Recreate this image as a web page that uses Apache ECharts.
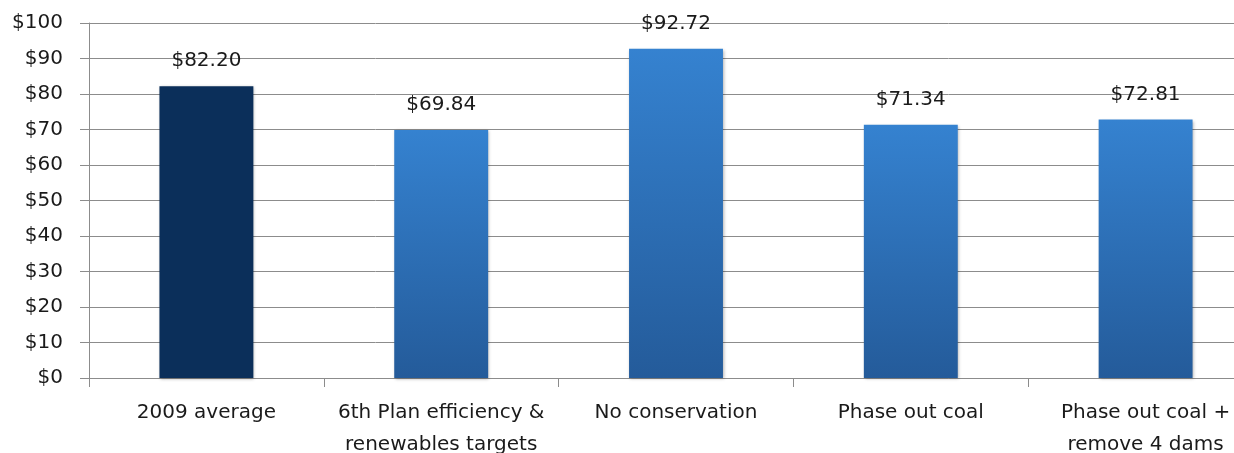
<!DOCTYPE html>
<html><head><meta charset="utf-8">
<script src="https://cdn.jsdelivr.net/npm/echarts@6/dist/echarts.min.js"></script>
<style>html,body{margin:0;padding:0;background:#fff}#c{width:1234px;height:453px}</style>
</head><body><div id="c"></div>
<script>
const categories = ["2009 average", "6th Plan efficiency &\nrenewables targets", "No conservation", "Phase out coal", "Phase out coal +\nremove 4 dams"];
const values = [82.20, 69.84, 92.72, 71.34, 72.81];
const yTicks = [0, 10, 20, 30, 40, 50, 60, 70, 80, 90, 100];

const font = '"DejaVu Sans", sans-serif';
const blueGrad = {type:'linear', x:0, y:0, x2:0, y2:1, colorStops:[{offset:0,color:'#3582d0'},{offset:1,color:'#245b9a'}]};
const chart = echarts.init(document.getElementById('c'));
chart.setOption({
  animation:false,
  grid:{left:89, right:-29, top:23, bottom:75, outerBoundsMode:'none', containLabel:false},
  xAxis:{type:'category', data:categories,
    axisLine:{lineStyle:{color:'#8c8c8c', width:1}},
    axisTick:{show:true, length:9, alignWithLabel:false, lineStyle:{color:'#8c8c8c'}},
    axisLabel:{color:'#1a1a1a', fontFamily:font, fontSize:20, margin:19, lineHeight:32, interval:0}
  },
  yAxis:{type:'value', min:0, max:100, interval:10,
    axisLine:{show:true, lineStyle:{color:'#8c8c8c'}},
    axisTick:{show:true, length:9, lineStyle:{color:'#8c8c8c'}},
    splitLine:{lineStyle:{color:'#8c8c8c', width:1}},
    axisLabel:{color:'#1a1a1a', fontFamily:font, fontSize:20, margin:26,
      formatter:function(v){return yTicks.indexOf(v)>=0 ? '$'+v : '';}}
  },
  series:[{type:'bar', barWidth:'40%',
    data: values.map((v,i)=>({value:v, itemStyle:{color: i===0 ? '#0b2f5a' : blueGrad}})),
    itemStyle:{shadowColor:'rgba(0,0,0,0.3)', shadowBlur:3, shadowOffsetX:1, shadowOffsetY:1},
    label:{show:true, position:'top', distance:15, color:'#1a1a1a', fontFamily:font, fontSize:20,
      formatter:function(p){return '$'+p.value.toFixed(2);}}
  }]
});
</script></body></html>
